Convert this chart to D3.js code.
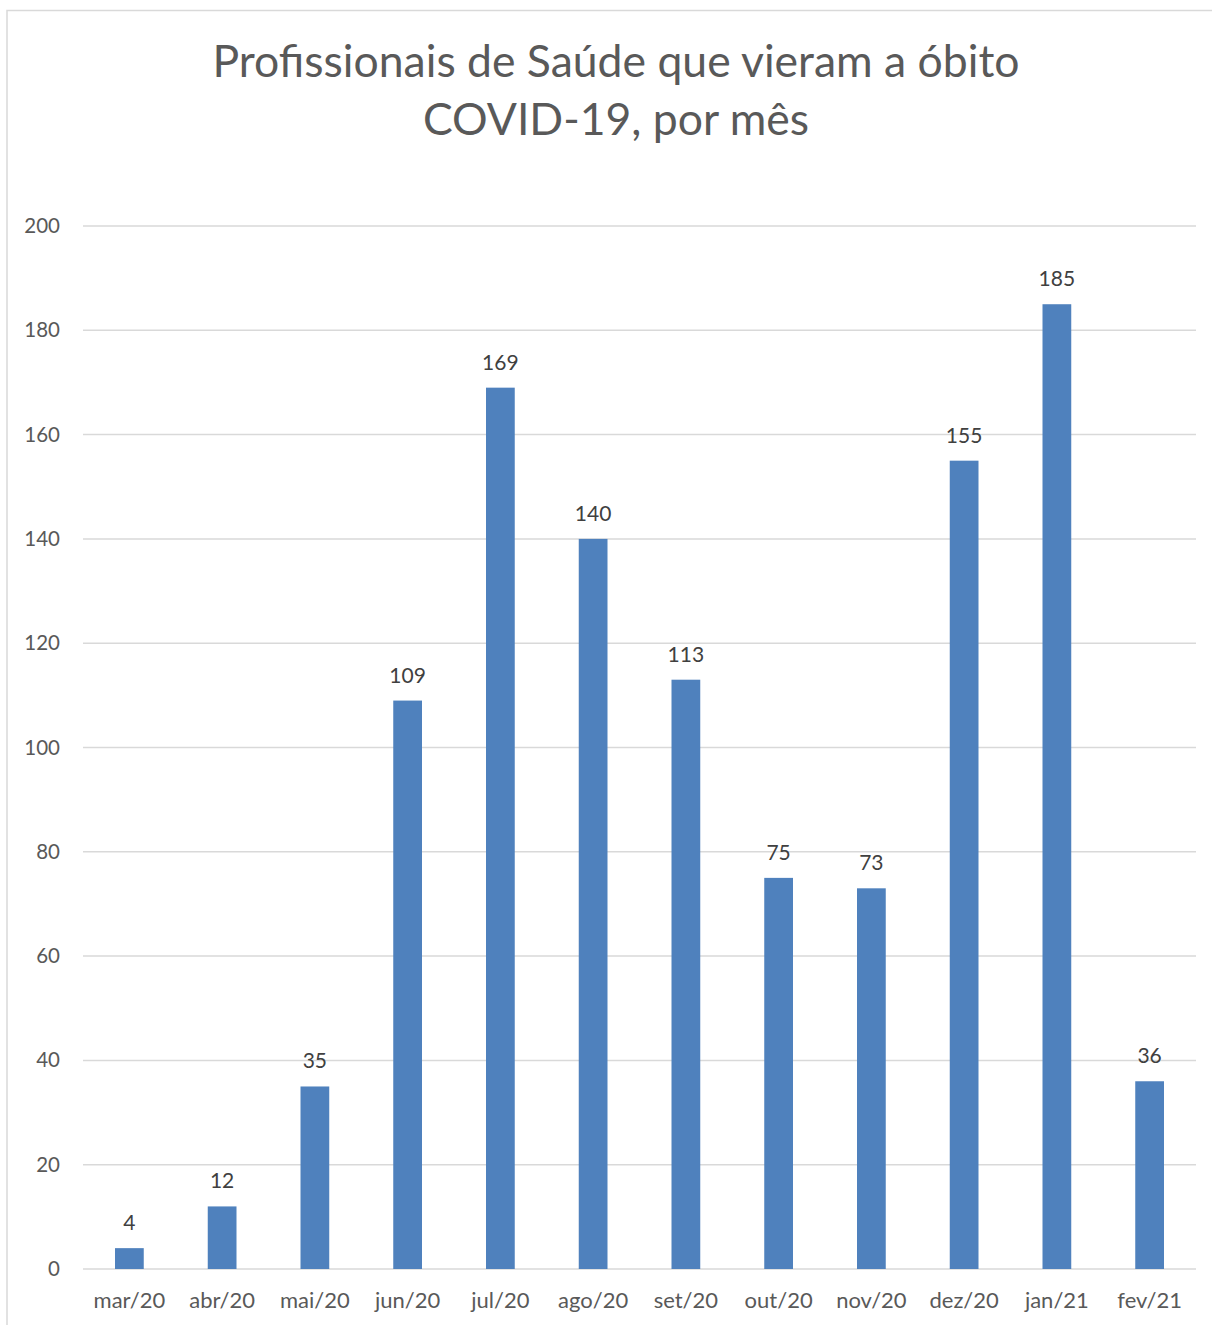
<!DOCTYPE html>
<html><head><meta charset="utf-8">
<script src="https://cdn.jsdelivr.net/npm/d3@7"></script>
<style>body{margin:0;background:#fff}svg{display:block}</style>
</head><body>
<svg id="c" width="1212" height="1325"></svg>
<script>
const categories = ["mar/20","abr/20","mai/20","jun/20","jul/20","ago/20","set/20","out/20","nov/20","dez/20","jan/21","fev/21"];
const values = [4,12,35,109,169,140,113,75,73,155,185,36];
const yTicks = [0,20,40,60,80,100,120,140,160,180,200];
const titleLines = ["Profissionais de Saúde que vieram a óbito","COVID-19, por mês"];

const font = "Lato, 'Open Sans', sans-serif";
const svg = d3.select("#c");
svg.append("rect").attr("x",7).attr("y",10.5).attr("width",1220).attr("height",1330)
  .attr("fill","#fff").attr("stroke","#d9d9d9").attr("stroke-width",1.5);

const x = d3.scaleBand().domain(categories).range([83,1196]).paddingInner(0.69).paddingOuter(0.345);
const y = d3.scaleLinear().domain([0,200]).range([1269,226]);

const g = svg.append("g");
g.selectAll("line.grid").data(yTicks).join("line").attr("class","grid")
  .attr("x1",83).attr("x2",1196).attr("y1",d=>y(d)).attr("y2",d=>y(d))
  .attr("stroke","#d9d9d9").attr("stroke-width",1.5);

const yAxis = d3.axisLeft(y).tickValues(yTicks).tickSize(0).tickPadding(0);
svg.append("g").attr("transform","translate(60,0)").call(yAxis)
  .call(s=>s.select(".domain").remove())
  .call(s=>s.selectAll("text").attr("font-family",font).attr("font-size",20.5).attr("fill","#595959"));

g.selectAll("rect.bar").data(values).join("rect").attr("class","bar")
  .attr("x",(d,i)=>x(categories[i])).attr("width",x.bandwidth())
  .attr("y",d=>y(d)).attr("height",d=>y(0)-y(d)).attr("fill","#4f81bd");

g.selectAll("text.val").data(values).join("text").attr("class","val")
  .attr("x",(d,i)=>x(categories[i])+x.bandwidth()/2).attr("y",d=>y(d)-18)
  .attr("text-anchor","middle").attr("font-family",font).attr("font-size",21).attr("fill","#404040")
  .text(d=>d);

const xAxis = d3.axisBottom(x).tickSize(0).tickPadding(0);
svg.append("g").attr("transform","translate(0,1269)").call(xAxis)
  .call(s=>s.select(".domain").remove())
  .call(s=>s.selectAll("text").attr("dy",null).attr("y",39).attr("font-family",font).attr("font-size",22).attr("fill","#595959"));

svg.selectAll("text.title").data(titleLines).join("text").attr("class","title")
  .attr("x",616).attr("y",(d,i)=>77+i*58).attr("text-anchor","middle")
  .attr("font-family",font).attr("font-size",44.5).attr("fill","#595959").text(d=>d);
</script>
</body></html>
